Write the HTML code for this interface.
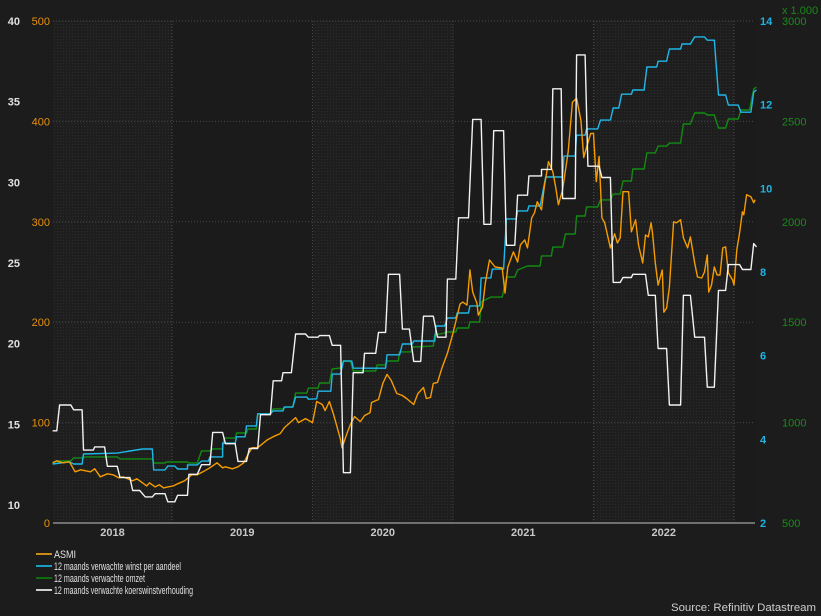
<!DOCTYPE html>
<html><head><meta charset="utf-8"><style>
html,body{margin:0;padding:0;background:#1c1c1c;}
svg{display:block;font-family:"Liberation Sans",Arial,sans-serif;}
</style></head><body>
<svg id="chart" width="821" height="616" viewBox="0 0 821 616" xmlns="http://www.w3.org/2000/svg">
<defs>
<pattern id="dots" width="3" height="3" patternUnits="userSpaceOnUse"><rect width="3" height="3" fill="#1e1e1e"/><rect width="1" height="1" fill="#2c2c2c"/></pattern>
</defs>
<rect width="821" height="616" fill="#1c1c1c"/>
<g id="bands"></g><g id="grid"></g><g id="axes"></g><g id="series"></g><g id="legend"></g>
<text x="816" y="611" text-anchor="end" font-size="11" fill="#d0d0d0" textLength="145" lengthAdjust="spacingAndGlyphs">Source: Refinitiv Datastream</text>
</svg>
<script>
const yearLabels=["2018","2019","2020","2021","2022"];
const orangeTicks=[0,100,200,300,400,500];
const whiteTicks=[10,15,20,25,30,35,40];
const blueTicks=[2,4,6,8,10,12,14];
const greenTicks=[500,1000,1500,2000,2500,3000];

const whiteDates=[2018.15,2018.18,2018.20,2018.28,2018.30,2018.36,2018.37,2018.44,2018.45,2018.52,2018.54,2018.61,2018.63,2018.70,2018.72,2018.77,2018.81,2018.86,2018.88,2018.95,2018.97,2019.02,2019.04,2019.11,2019.12,2019.18,2019.21,2019.27,2019.29,2019.36,2019.38,2019.45,2019.47,2019.53,2019.55,2019.61,2019.63,2019.70,2019.72,2019.78,2019.79,2019.85,2019.88,2019.95,2019.97,2020.04,2020.05,2020.12,2020.14,2020.20,2020.22,2020.27,2020.29,2020.36,2020.37,2020.45,2020.47,2020.52,2020.54,2020.62,2020.64,2020.69,2020.72,2020.77,2020.79,2020.86,2020.89,2020.95,2020.96,2021.02,2021.04,2021.11,2021.14,2021.20,2021.22,2021.27,2021.29,2021.36,2021.38,2021.44,2021.46,2021.53,2021.54,2021.63,2021.63,2021.70,2021.71,2021.77,2021.78,2021.87,2021.88,2021.94,2021.96,2022.04,2022.06,2022.12,2022.14,2022.19,2022.21,2022.27,2022.28,2022.37,2022.39,2022.44,2022.46,2022.52,2022.54,2022.62,2022.64,2022.69,2022.72,2022.79,2022.81,2022.86,2022.89,2022.94,2022.96,2023.04,2023.06,2023.12,2023.14,2023.16];
const whiteValues=[14.6,14.6,16.2,16.2,15.9,15.9,13.4,13.4,13.6,13.6,12.4,12.4,11.7,11.7,10.9,10.9,10.5,10.5,10.7,10.7,10.2,10.2,10.6,10.6,11.9,11.9,12.5,12.5,14.5,14.5,13.8,13.8,12.7,12.7,13.5,13.5,15.6,15.6,17.7,17.7,18.2,18.2,20.6,20.6,20.4,20.4,20.5,20.5,19.9,19.9,12.0,12.0,18.2,18.2,19.4,19.4,20.7,20.7,24.3,24.3,20.9,20.9,18.9,18.9,21.7,21.7,20.4,20.4,24.0,24.0,27.8,27.8,33.9,33.9,27.4,27.4,33.2,33.2,26.1,26.1,29.2,29.2,30.4,30.4,30.8,30.8,35.8,35.8,29.0,29.0,37.9,37.9,31.0,31.0,30.3,30.3,23.8,23.8,24.1,24.1,24.3,24.3,23.0,23.0,19.7,19.7,16.2,16.2,23.0,23.0,20.4,20.4,17.3,17.3,23.3,23.3,24.9,24.9,24.6,24.6,26.2,26.0];

const blueDates=[2018.15,2018.27,2018.30,2018.36,2018.37,2018.61,2018.70,2018.79,2018.86,2018.87,2018.95,2018.97,2019.02,2019.04,2019.11,2019.11,2019.18,2019.21,2019.26,2019.27,2019.36,2019.36,2019.45,2019.46,2019.52,2019.53,2019.60,2019.61,2019.70,2019.72,2019.79,2019.80,2019.86,2019.88,2019.96,2019.97,2020.03,2020.04,2020.13,2020.14,2020.20,2020.22,2020.28,2020.29,2020.52,2020.53,2020.62,2020.64,2020.71,2020.72,2020.87,2020.88,2020.94,2020.96,2021.02,2021.03,2021.11,2021.12,2021.19,2021.20,2021.27,2021.28,2021.36,2021.38,2021.45,2021.46,2021.53,2021.54,2021.62,2021.66,2021.78,2021.79,2021.87,2021.88,2021.94,2021.95,2022.03,2022.05,2022.12,2022.14,2022.18,2022.20,2022.27,2022.28,2022.36,2022.38,2022.45,2022.46,2022.52,2022.54,2022.62,2022.63,2022.69,2022.72,2022.79,2022.81,2022.86,2022.89,2022.94,2022.96,2023.03,2023.05,2023.12,2023.14,2023.16];
const blueValues=[3.41,3.46,3.41,3.41,3.65,3.67,3.72,3.77,3.77,3.27,3.27,3.36,3.36,3.29,3.29,3.39,3.39,3.48,3.48,3.58,3.58,3.91,3.91,4.06,4.06,4.32,4.32,4.61,4.61,4.68,4.68,4.77,4.77,5.01,5.01,4.96,4.97,5.15,5.15,5.56,5.56,5.87,5.87,5.70,5.70,6.02,6.02,6.28,6.28,6.35,6.35,6.71,6.71,6.90,6.90,7.02,7.02,7.19,7.19,7.86,7.86,8.07,8.07,9.27,9.27,9.46,9.46,9.58,9.58,10.27,10.27,10.77,10.77,11.27,11.27,11.42,11.42,11.63,11.63,11.92,11.92,12.25,12.25,12.35,12.35,12.90,12.90,13.04,13.04,13.33,13.33,13.45,13.45,13.62,13.62,13.54,13.54,12.23,12.23,11.99,11.99,11.82,11.82,12.30,12.35];

const greenDates=[2018.15,2018.19,2018.28,2018.30,2018.37,2018.38,2018.61,2018.63,2018.86,2018.87,2018.95,2018.96,2019.11,2019.12,2019.18,2019.21,2019.27,2019.29,2019.36,2019.37,2019.45,2019.46,2019.53,2019.54,2019.60,2019.61,2019.70,2019.72,2019.79,2019.80,2019.86,2019.88,2019.96,2019.97,2020.04,2020.05,2020.12,2020.14,2020.20,2020.22,2020.27,2020.29,2020.45,2020.46,2020.52,2020.53,2020.61,2020.62,2020.70,2020.71,2020.86,2020.87,2020.94,2020.95,2021.02,2021.03,2021.11,2021.12,2021.19,2021.20,2021.27,2021.35,2021.38,2021.44,2021.46,2021.53,2021.62,2021.63,2021.70,2021.71,2021.78,2021.80,2021.87,2021.88,2021.94,2021.95,2022.03,2022.05,2022.12,2022.14,2022.19,2022.21,2022.27,2022.28,2022.36,2022.38,2022.44,2022.46,2022.52,2022.54,2022.62,2022.64,2022.69,2022.72,2022.79,2022.81,2022.86,2022.89,2022.94,2022.96,2023.03,2023.05,2023.11,2023.14,2023.16];
const greenValues=[799,809,809,824,824,829,829,819,819,799,799,804,804,799,799,859,859,869,869,923,923,948,948,968,968,1043,1043,1068,1068,1078,1078,1147,1147,1172,1172,1197,1197,1267,1272,1307,1307,1257,1257,1287,1287,1307,1307,1352,1352,1376,1381,1436,1446,1451,1451,1471,1471,1501,1501,1601,1625,1625,1725,1725,1760,1780,1780,1830,1830,1874,1874,1939,1939,2029,2029,2074,2074,2109,2109,2138,2138,2203,2203,2263,2263,2343,2343,2377,2377,2392,2392,2487,2487,2542,2542,2532,2532,2467,2467,2512,2512,2557,2557,2661,2671];

const orangeDates=[2018.15,2018.18,2018.22,2018.27,2018.31,2018.35,2018.42,2018.45,2018.49,2018.54,2018.58,2018.62,2018.65,2018.72,2018.75,2018.79,2018.82,2018.84,2018.88,2018.91,2018.94,2018.97,2019.01,2019.04,2019.09,2019.14,2019.18,2019.22,2019.27,2019.32,2019.36,2019.38,2019.43,2019.47,2019.51,2019.54,2019.57,2019.61,2019.68,2019.72,2019.77,2019.80,2019.84,2019.88,2019.90,2019.95,2020.00,2020.03,2020.07,2020.09,2020.12,2020.15,2020.17,2020.20,2020.21,2020.25,2020.27,2020.30,2020.34,2020.37,2020.41,2020.42,2020.47,2020.50,2020.53,2020.56,2020.60,2020.64,2020.67,2020.72,2020.75,2020.79,2020.81,2020.84,2020.86,2020.89,2020.92,2020.96,2021.00,2021.05,2021.07,2021.10,2021.12,2021.14,2021.17,2021.18,2021.21,2021.23,2021.26,2021.30,2021.35,2021.37,2021.39,2021.43,2021.46,2021.48,2021.51,2021.53,2021.56,2021.58,2021.60,2021.63,2021.65,2021.68,2021.71,2021.73,2021.75,2021.78,2021.82,2021.85,2021.88,2021.91,2021.93,2021.95,2021.98,2022.00,2022.02,2022.04,2022.06,2022.08,2022.12,2022.15,2022.17,2022.19,2022.21,2022.25,2022.27,2022.30,2022.32,2022.35,2022.37,2022.39,2022.41,2022.42,2022.44,2022.46,2022.49,2022.50,2022.52,2022.54,2022.57,2022.59,2022.62,2022.64,2022.67,2022.69,2022.72,2022.74,2022.77,2022.79,2022.81,2022.82,2022.84,2022.86,2022.88,2022.90,2022.92,2022.94,2022.96,2022.99,2023.00,2023.02,2023.04,2023.06,2023.07,2023.09,2023.12,2023.14,2023.15];
const orangeValues=[60,62,60,61,51,53,51,54,46,49,48,45,46,42,44,40,37,40,36,38,35,36,37,39,42,48,48,51,55,60,55,56,54,56,60,68,75,75,83,86,89,95,100,105,100,104,100,121,118,112,121,108,98,83,75,91,98,106,101,107,110,120,123,139,148,142,129,127,124,118,129,135,124,125,139,140,154,169,189,218,220,217,252,230,219,207,215,239,262,255,254,229,255,270,260,277,282,274,304,309,320,312,335,360,350,335,317,332,370,419,423,401,364,374,388,388,340,365,304,299,274,288,279,284,330,330,290,302,277,259,287,285,299,289,259,237,252,210,214,235,300,299,302,284,274,285,259,245,244,250,267,230,237,255,247,247,274,275,249,242,237,272,289,310,307,327,325,319,322];

const NS="http://www.w3.org/2000/svg";
const X0=53,X1=755,YT=21,YB=523;
function xScale(t){return 172+(t-2019)*140.5;}
function yOrange(v){return YB-v*(YB-YT)/500;}
function yWhite(v){return 505-(v-10)*(505-YT)/30;}
function yBlue(v){return YB-(v-2)*(YB-YT)/12;}
function yGreen(v){return YB-(v-500)*(YB-YT)/2500;}
function mk(tag,attrs,parent){const e=document.createElementNS(NS,tag);for(const k in attrs)e.setAttribute(k,attrs[k]);parent.appendChild(e);return e;}

const bands=document.getElementById('bands');
const grid=document.getElementById('grid');
const axes=document.getElementById('axes');
const series=document.getElementById('series');
const legend=document.getElementById('legend');

// year bands
const bandEdges=[X0,xScale(2019),xScale(2020),xScale(2021),xScale(2022),xScale(2023),X1];
for(let i=0;i<bandEdges.length-1;i++){
  const r=mk('rect',{x:bandEdges[i],y:YT,width:bandEdges[i+1]-bandEdges[i],height:YB-YT,fill:(i%2===0)?'url(#dots)':'#1b1b1b'},bands);
  
  
}
// horizontal grid
orangeTicks.forEach(v=>{
  if(v===0)return;
  const l=mk('line',{x1:X0,x2:X1,y1:yOrange(v),y2:yOrange(v),stroke:'#4a4a4a','stroke-dasharray':'1,2'},grid);
  
  
});
for(let yr=2019;yr<=2023;yr++){
  const l=mk('line',{x1:xScale(yr),x2:xScale(yr),y1:YT,y2:YB,stroke:'#4a4a4a','stroke-dasharray':'1,2'},grid);
  
  
}
// x axis
const xa=mk('line',{x1:X0,x2:X1,y1:YB,y2:YB,stroke:'#8a8a8a','stroke-width':1.5},axes);


yearLabels.forEach(y=>{
  const yr=+y;
  const s=Math.max(xScale(yr),X0), e=Math.min(xScale(yr+1),xScale(2023));
  const t=mk('text',{x:(s+e)/2,y:536,'text-anchor':'middle','font-size':11,'font-weight':'bold',fill:'#c8c8c8'},axes);
  t.textContent=y;
  
  
});
// left axes
whiteTicks.forEach(v=>{
  const t=mk('text',{x:20,y:yWhite(v)+4,'text-anchor':'end','font-size':11,'font-weight':'bold',fill:'#e0e0e0'},axes);
  t.textContent=v;
  
  
});
orangeTicks.forEach(v=>{
  const t=mk('text',{x:50,y:yOrange(v)+4,'text-anchor':'end','font-size':11,fill:'#e8900c'},axes);
  t.textContent=v;
  
  
});
// right axes
blueTicks.forEach(v=>{
  const t=mk('text',{x:760,y:yBlue(v)+4,'font-size':11,'font-weight':'bold',fill:'#1fb4e4'},axes);
  t.textContent=v;
  
  
});
greenTicks.forEach(v=>{
  const t=mk('text',{x:782,y:yGreen(v)+4,'font-size':11,fill:'#1a8a1a'},axes);
  t.textContent=v;
  
  
});
const unit=mk('text',{x:782,y:14,'font-size':11,fill:'#1a8a1a'},axes);
unit.textContent='x 1.000';



function drawLine(dates,vals,ys,color,name){
  const pts=dates.map((d,i)=>xScale(d).toFixed(1)+','+ys(vals[i]).toFixed(1)).join(' ');
  const p=mk('polyline',{points:pts,fill:'none',stroke:color,'stroke-width':1.4,'stroke-linejoin':'round'},series);
  
  
}
drawLine(greenDates,greenValues,yGreen,'#128a12','series-revenue');
drawLine(blueDates,blueValues,yBlue,'#1fb8e8','series-eps');
drawLine(orangeDates,orangeValues,yOrange,'#f59c00','series-asmi');
drawLine(whiteDates,whiteValues,yWhite,'#f2f2f2','series-pe-ratio');

const legendItems=[["ASMI","#c98a18",22],["12 maands verwachte winst per aandeel","#1a9cc4",127],["12 maands verwachte omzet","#0e6e0e",91],["12 maands verwachte koerswinstverhouding","#cfcfcf",139]];
legendItems.forEach((it,i)=>{
  const y=554+i*12;
  const g=mk('g',{},legend);
  
  
  mk('line',{x1:36,x2:52,y1:y,y2:y,stroke:it[1],'stroke-width':2},g);
  const t=mk('text',{x:54,y:y+4,'font-size':11,fill:'#e0e0e0',textLength:it[2],lengthAdjust:'spacingAndGlyphs'},g);
  t.textContent=it[0];
});
</script>
</body></html>
